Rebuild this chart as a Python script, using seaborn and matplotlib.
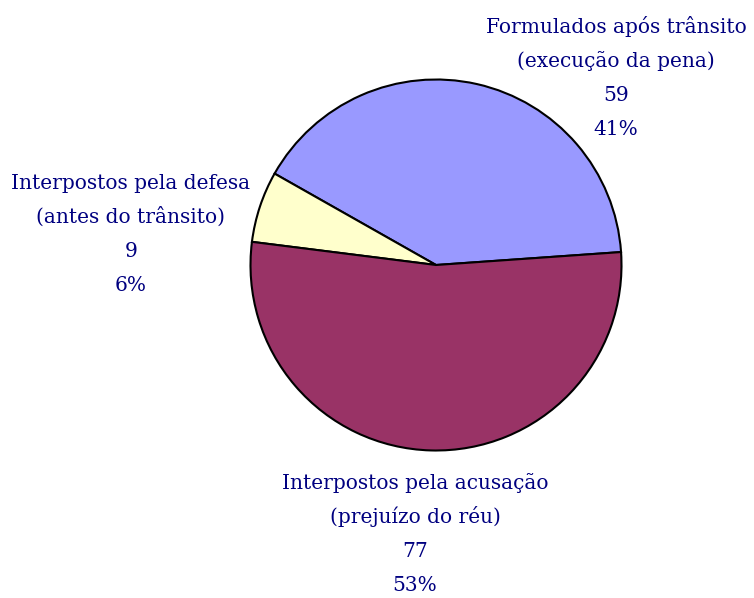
import matplotlib.pyplot as plt
import seaborn as sns

sns.set_theme(style="white")
plt.rcParams['font.family'] = ['DejaVu Serif']

# --- DATA ---
titles = [["Formulados após trânsito", "(execução da pena)"],
          ["Interpostos pela defesa", "(antes do trânsito)"],
          ["Interpostos pela acusação", "(prejuízo do réu)"]]
counts = [59, 9, 77]
pcts = ["41%", "6%", "53%"]
colors = ["#9999FF", "#FFFFCC", "#993366"]

# label anchors: centre x, first baseline y (pixels, y down)
label_pos = [(616, 33), (131, 189), (415, 489)]
line_step = 34

W, H = 754, 598
fig = plt.figure(figsize=(W / 100, H / 100), dpi=100)
ax = fig.add_axes([0, 0, 1, 1])

ax.pie(counts, colors=colors, startangle=4, counterclock=True,
       center=(436, H - 265), radius=185.5,
       wedgeprops=dict(edgecolor='black', linewidth=1.5))
ax.set_xlim(0, W)
ax.set_ylim(0, H)
ax.set_aspect('equal')
ax.axis('off')

for t, c, p, (x, y) in zip(titles, counts, pcts, label_pos):
    lines = t + [str(c), p]
    for i, s in enumerate(lines):
        ax.text(x, H - (y + i * line_step), s, ha='center', va='baseline',
                fontsize=14.5, color='#000080')

fig.savefig("out.png", dpi=100)
